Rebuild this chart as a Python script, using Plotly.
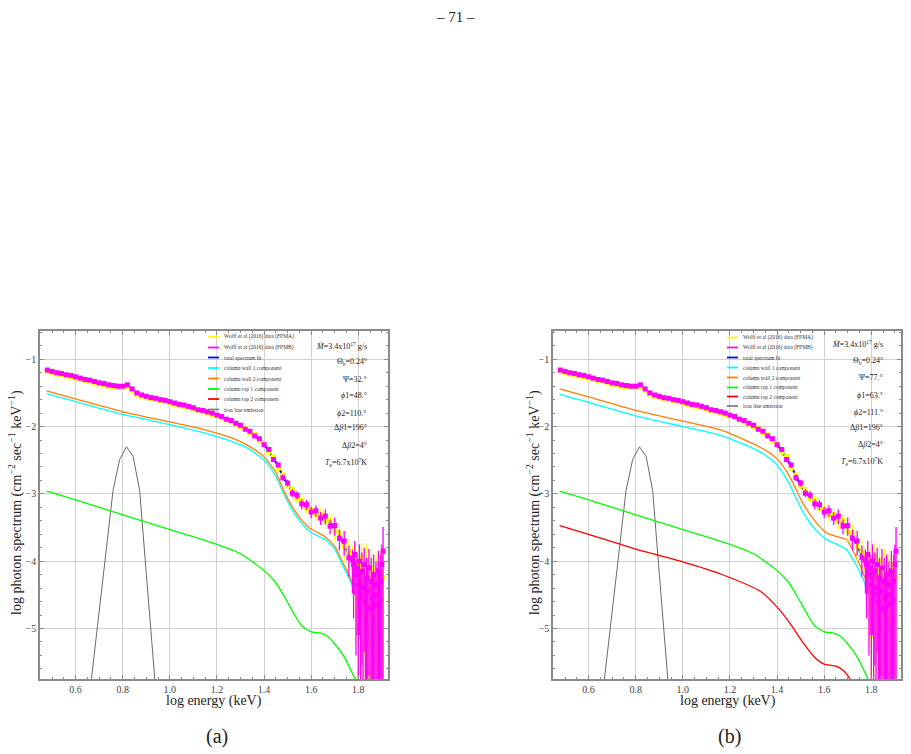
import plotly.graph_objects as go

W, H = 911, 754

# ---------------- data ----------------
# observed spectra (Wolff et al 2016), log energy (keV) vs log photon spectrum
E_DATA = [0.48, 0.50, 0.52, 0.54, 0.56, 0.58, 0.60, 0.62, 0.64, 0.66, 0.68, 0.70, 0.72,
          0.74, 0.76, 0.78, 0.80, 0.82, 0.84, 0.86, 0.88, 0.90, 0.92, 0.94, 0.96, 0.98,
          1.00, 1.02, 1.04, 1.06, 1.08, 1.10, 1.12, 1.14, 1.16, 1.18,
          1.20, 1.22, 1.24, 1.26, 1.28, 1.30, 1.32, 1.34, 1.36, 1.38,
          1.40, 1.42, 1.44, 1.46, 1.48, 1.50,
          1.52, 1.54, 1.56, 1.58, 1.60, 1.62,
          1.64, 1.66, 1.68, 1.70, 1.72, 1.74, 1.76,
          1.775, 1.780, 1.785, 1.790, 1.795, 1.800, 1.805, 1.810, 1.815, 1.820, 1.825, 1.830, 1.835,
          1.840, 1.845, 1.850, 1.855, 1.860, 1.865, 1.870, 1.875, 1.880, 1.885, 1.890, 1.895, 1.900, 1.905]

FPMB = [-1.16, -1.18, -1.20, -1.21, -1.23, -1.24, -1.26, -1.28, -1.30, -1.31, -1.33, -1.35, -1.36,
        -1.38, -1.39, -1.40, -1.40, -1.38, -1.44, -1.50, -1.53, -1.55, -1.57, -1.58, -1.60, -1.61,
        -1.63, -1.65, -1.67, -1.68, -1.70, -1.72, -1.75, -1.76, -1.78, -1.80,
        -1.83, -1.85, -1.89, -1.91, -1.95, -1.98, -2.04, -2.07, -2.14, -2.18,
        -2.27, -2.34, -2.49, -2.57, -2.76, -2.84,
        -2.99, -3.02, -3.15, -3.16, -3.27, -3.25,
        -3.36, -3.33, -3.48, -3.47, -3.66, -3.70, -3.95,
        -3.98, -4.05, -3.90, -4.20, -4.10, -4.35, -4.00, -4.50, -4.15, -4.40, -4.05, -4.60, -4.25,
        -4.45, -4.10, -4.70, -4.30, -4.55, -4.20, -4.65, -4.35, -4.50, -4.15, -4.60, -4.30, -4.05, -3.85]
FPMB_UP = [0.010, 0.010, 0.010, 0.010, 0.010, 0.010, 0.010, 0.010, 0.010, 0.010, 0.010, 0.010, 0.010,
           0.010, 0.010, 0.010, 0.010, 0.010, 0.010, 0.010, 0.010, 0.010, 0.010, 0.010, 0.010, 0.010,
           0.015, 0.015, 0.015, 0.015, 0.015, 0.015, 0.015, 0.015, 0.015, 0.015,
           0.020, 0.020, 0.020, 0.020, 0.020, 0.020, 0.020, 0.020, 0.020, 0.020,
           0.030, 0.030, 0.040, 0.040, 0.050, 0.050,
           0.060, 0.060, 0.070, 0.070, 0.080, 0.080,
           0.090, 0.100, 0.100, 0.120, 0.130, 0.150, 0.180,
           0.15, 0.18, 0.20, 0.22, 0.20, 0.28, 0.25, 0.32, 0.28, 0.30, 0.25, 0.40, 0.30,
           0.35, 0.28, 0.45, 0.35, 0.40, 0.30, 0.45, 0.35, 0.40, 0.30, 0.45, 0.40, 0.30, 0.36]
FPMB_DOWN = [0.010, 0.010, 0.010, 0.010, 0.010, 0.010, 0.010, 0.010, 0.010, 0.010, 0.010, 0.010, 0.010,
             0.010, 0.010, 0.010, 0.010, 0.010, 0.010, 0.010, 0.010, 0.010, 0.010, 0.010, 0.010, 0.010,
             0.015, 0.015, 0.015, 0.015, 0.015, 0.015, 0.015, 0.015, 0.015, 0.015,
             0.020, 0.020, 0.020, 0.020, 0.020, 0.020, 0.020, 0.020, 0.020, 0.020,
             0.030, 0.030, 0.040, 0.040, 0.050, 0.050,
             0.060, 0.060, 0.080, 0.080, 0.090, 0.090,
             0.100, 0.120, 0.120, 0.150, 0.180, 0.220, 0.280,
             0.5, 0.8, 0.6, 1.2, 1.0, 1.6, 1.1, 2.5, 1.4, 2.0, 1.3, 3.0, 2.0,
             2.5, 1.6, 3.0, 2.2, 3.0, 2.0, 3.0, 2.5, 3.0, 2.0, 3.0, 2.6, 2.2, 3.0]

FPMA = [-1.18, -1.20, -1.22, -1.23, -1.25, -1.26, -1.28, -1.30, -1.32, -1.33, -1.35, -1.37, -1.38,
        -1.40, -1.41, -1.42, -1.42, -1.41, -1.46, -1.52, -1.55, -1.57, -1.59, -1.60, -1.62, -1.63,
        -1.65, -1.67, -1.69, -1.70, -1.72, -1.74, -1.76, -1.78, -1.80, -1.82,
        -1.84, -1.87, -1.90, -1.93, -1.96, -2.00, -2.02, -2.09, -2.12, -2.21,
        -2.25, -2.38, -2.45, -2.62, -2.72, -2.88,
        -2.94, -3.07, -3.10, -3.21, -3.23, -3.31,
        -3.30, -3.40, -3.39, -3.55, -3.58, -3.78, -3.85,
        -3.92, -4.10, -3.95, -4.25, -4.05, -4.40, -4.15, -4.30, -3.95, -4.55, -4.20, -4.35, -4.00,
        -4.60, -4.25, -4.45, -4.10, -4.70, -4.30, -4.50, -4.20, -4.65, -4.35, -4.40, -4.15, -4.55, -4.25]
FPMA_UP = [0.010, 0.010, 0.010, 0.010, 0.010, 0.010, 0.010, 0.010, 0.010, 0.010, 0.010, 0.010, 0.010,
           0.010, 0.010, 0.010, 0.010, 0.010, 0.010, 0.010, 0.010, 0.010, 0.010, 0.010, 0.010, 0.010,
           0.015, 0.015, 0.015, 0.015, 0.015, 0.015, 0.015, 0.015, 0.015, 0.015,
           0.020, 0.020, 0.020, 0.020, 0.020, 0.020, 0.020, 0.020, 0.020, 0.020,
           0.030, 0.030, 0.040, 0.040, 0.050, 0.050,
           0.060, 0.060, 0.070, 0.070, 0.080, 0.080,
           0.090, 0.100, 0.100, 0.120, 0.130, 0.150, 0.180,
           0.15, 0.20, 0.18, 0.25, 0.22, 0.30, 0.25, 0.30, 0.22, 0.38, 0.30, 0.35, 0.25,
           0.40, 0.32, 0.38, 0.28, 0.45, 0.35, 0.40, 0.30, 0.45, 0.35, 0.40, 0.30, 0.42, 0.35]
FPMA_DOWN = [0.010, 0.010, 0.010, 0.010, 0.010, 0.010, 0.010, 0.010, 0.010, 0.010, 0.010, 0.010, 0.010,
             0.010, 0.010, 0.010, 0.010, 0.010, 0.010, 0.010, 0.010, 0.010, 0.010, 0.010, 0.010, 0.010,
             0.015, 0.015, 0.015, 0.015, 0.015, 0.015, 0.015, 0.015, 0.015, 0.015,
             0.020, 0.020, 0.020, 0.020, 0.020, 0.020, 0.020, 0.020, 0.020, 0.020,
             0.030, 0.030, 0.040, 0.040, 0.050, 0.050,
             0.060, 0.060, 0.080, 0.080, 0.090, 0.090,
             0.100, 0.120, 0.120, 0.150, 0.180, 0.220, 0.280,
             0.4, 0.7, 0.5, 1.0, 0.8, 1.5, 1.0, 1.4, 0.8, 2.5, 1.2, 1.8, 1.0,
             3.0, 1.5, 2.2, 1.2, 3.0, 1.8, 2.5, 1.4, 3.0, 2.0, 2.4, 1.5, 3.0, 2.0]

# total spectrum fit
E_MODEL = [0.477, 0.50, 0.52, 0.54, 0.56, 0.58, 0.60, 0.62, 0.64, 0.66, 0.68, 0.70, 0.72,
           0.74, 0.76, 0.78, 0.80, 0.82, 0.84, 0.86, 0.88, 0.90, 0.92, 0.94, 0.96, 0.98,
           1.00, 1.02, 1.04, 1.06, 1.08, 1.10, 1.12, 1.14, 1.16, 1.18,
           1.20, 1.22, 1.24, 1.26, 1.28, 1.30, 1.32, 1.34, 1.36, 1.38,
           1.40, 1.42, 1.44, 1.46, 1.48, 1.50, 1.52, 1.54, 1.56, 1.58,
           1.60, 1.62, 1.64, 1.66, 1.68, 1.70, 1.72, 1.74, 1.76, 1.78,
           1.80, 1.82, 1.84, 1.86, 1.88, 1.90]
TOTAL_A = [-1.17, -1.19, -1.21, -1.22, -1.24, -1.25, -1.27, -1.29, -1.31, -1.32, -1.34, -1.36, -1.37,
           -1.39, -1.40, -1.41, -1.41, -1.39, -1.45, -1.51, -1.54, -1.56, -1.58, -1.59, -1.61, -1.62,
           -1.64, -1.66, -1.68, -1.69, -1.71, -1.73, -1.75, -1.77, -1.79, -1.81,
           -1.83, -1.86, -1.89, -1.92, -1.95, -1.99, -2.03, -2.08, -2.13, -2.19,
           -2.26, -2.36, -2.47, -2.59, -2.74, -2.86, -2.96, -3.04, -3.12, -3.19,
           -3.24, -3.28, -3.32, -3.37, -3.43, -3.51, -3.62, -3.75, -3.90, -4.05,
           -4.22, -4.40, -4.60, -4.80, -5.00, -5.20]
TOTAL_B = [-1.165, -1.185, -1.205, -1.22, -1.235, -1.25, -1.265, -1.285, -1.305, -1.32, -1.335, -1.355, -1.37,
           -1.385, -1.40, -1.41, -1.41, -1.39, -1.45, -1.51, -1.54, -1.56, -1.575, -1.59, -1.605, -1.62,
           -1.64, -1.655, -1.675, -1.69, -1.71, -1.73, -1.75, -1.77, -1.79, -1.81,
           -1.83, -1.86, -1.89, -1.92, -1.95, -1.99, -2.03, -2.08, -2.13, -2.19,
           -2.26, -2.36, -2.47, -2.59, -2.74, -2.87, -2.97, -3.05, -3.12, -3.19,
           -3.24, -3.28, -3.33, -3.38, -3.44, -3.52, -3.63, -3.76, -3.92, -4.08,
           -4.25, -4.43, -4.62, -4.82, -5.02, -5.22]

# column wall / top components
WALL_A_E = [0.477, 0.60, 0.80, 1.00, 1.13, 1.27, 1.33, 1.40, 1.45, 1.49, 1.54, 1.59, 1.63,
            1.66, 1.70, 1.73, 1.76, 1.79, 1.82, 1.85, 1.88, 1.90]
WALL2_A = [-1.47, -1.59, -1.78, -1.93, -2.03, -2.18, -2.28, -2.45, -2.68, -3.00, -3.30, -3.50, -3.58,
           -3.64, -3.78, -3.99, -4.20, -4.47, -4.80, -5.20, -5.60, -5.90]
WALL1_A = [-1.51, -1.63, -1.82, -1.97, -2.08, -2.23, -2.32, -2.50, -2.74, -3.05, -3.35, -3.55, -3.63,
           -3.68, -3.82, -4.04, -4.25, -4.52, -4.85, -5.25, -5.65, -5.95]

WALL_B_E = [0.477, 0.60, 0.80, 1.00, 1.16, 1.33, 1.40, 1.45, 1.51, 1.56, 1.61, 1.65, 1.695,
            1.73, 1.766, 1.80, 1.84, 1.87, 1.90]
WALL2_B = [-1.44, -1.56, -1.76, -1.92, -2.05, -2.31, -2.48, -2.72, -3.14, -3.40, -3.58, -3.63, -3.68,
           -3.90, -4.18, -4.50, -4.95, -5.40, -5.80]
WALL1_B = [-1.52, -1.64, -1.84, -2.00, -2.13, -2.38, -2.57, -2.84, -3.27, -3.52, -3.68, -3.74, -3.83,
           -4.02, -4.27, -4.62, -5.10, -5.55, -5.95]

TOP1_E = [0.477, 0.60, 0.80, 1.00, 1.13, 1.20, 1.30, 1.40, 1.45, 1.49, 1.53, 1.56, 1.60,
          1.64, 1.67, 1.70, 1.74, 1.79, 1.82]
TOP1 = [-2.96, -3.09, -3.31, -3.53, -3.67, -3.75, -3.89, -4.14, -4.32, -4.55, -4.80, -4.96, -5.05,
        -5.07, -5.12, -5.23, -5.42, -5.78, -6.00]

TOP2_B_E = [0.477, 0.60, 0.80, 1.00, 1.16, 1.33, 1.41, 1.46, 1.51, 1.56, 1.60, 1.65, 1.68, 1.71, 1.74]
TOP2_B = [-3.47, -3.60, -3.82, -4.01, -4.19, -4.45, -4.72, -4.95, -5.21, -5.43, -5.53, -5.56, -5.62,
          -5.75, -5.95]

IRON_E = [0.646, 0.675, 0.703, 0.731, 0.759, 0.787, 0.816, 0.844, 0.872, 0.900, 0.928, 0.956]
IRON = [-6.4, -5.5, -4.65, -3.8, -2.95, -2.49, -2.30, -2.44, -2.95, -4.18, -5.4, -6.6]

X_TICKS = [0.6, 0.8, 1.0, 1.2, 1.4, 1.6, 1.8]
X_TICK_LABELS = ["0.6", "0.8", "1.0", "1.2", "1.4", "1.6", "1.8"]
Y_TICKS = [-1, -2, -3, -4, -5]
Y_TICK_LABELS = ["\u22121", "\u22122", "\u22123", "\u22124", "\u22125"]

LEGEND_NAMES = ["Wolff et al (2016) data (FPMA)", "Wolff et al (2016) data (FPMB)",
                "total spectrum fit", "column wall 1 component", "column wall 2 component",
                "column top 1 component", "column top 2 component", "iron line emission"]
LEGEND_COLORS = ["#FFFF00", "#FF00FF", "#0000FF", "#00FFFF", "#FF8000", "#00FF00", "#FF0000", "#808080"]

PARAMS_A = ["<i>\u1e40</i>=3.4x10<sup>17</sup> g/s", "\u0398<sub>b</sub>=0.24\u00b0", "\u03a8=32.\u00b0",
            "<i>\u03d5</i>1=48.\u00b0", "<i>\u03d5</i>2=110.\u00b0", "\u0394<i>\u03b2</i>1=196\u00b0",
            "\u0394<i>\u03b2</i>2=4\u00b0", "<i>T</i><sub>e</sub>=6.7x10<sup>7</sup>K"]
PARAMS_B = ["<i>\u1e40</i>=3.4x10<sup>17</sup> g/s", "\u0398<sub>b</sub>=0.24\u00b0", "\u03a8=77.\u00b0",
            "<i>\u03d5</i>1=63.\u00b0", "<i>\u03d5</i>2=111.\u00b0", "\u0394<i>\u03b2</i>1=196\u00b0",
            "\u0394<i>\u03b2</i>2=4\u00b0", "<i>T</i><sub>e</sub>=6.7x10<sup>7</sup>K"]

# ---------------- figure ----------------
SERIF = "Liberation Serif, Times New Roman, DejaVu Serif, serif"
fig = go.Figure()


def px_x(px):
    return px / W


def px_y(py):
    return 1 - py / H


def add_panel(xa, ya, total, wall_e, wall1, wall2, top2_e=None, top2=None):
    common = dict(xaxis=xa, yaxis=ya, showlegend=False, hoverinfo="skip")
    fig.add_trace(go.Scatter(x=IRON_E, y=IRON, mode="lines",
                             line=dict(color="#6a6a6a", width=1), **common))
    fig.add_trace(go.Scatter(x=TOP1_E, y=TOP1, mode="lines", line_shape="spline",
                             line=dict(color="#00FF00", width=1.3, smoothing=0.6), **common))
    if top2 is not None:
        fig.add_trace(go.Scatter(x=top2_e, y=top2, mode="lines", line_shape="spline",
                                 line=dict(color="#FF0000", width=1.3, smoothing=0.6), **common))
    fig.add_trace(go.Scatter(x=wall_e, y=wall1, mode="lines", line_shape="spline",
                             line=dict(color="#00FFFF", width=1.3, smoothing=0.6), **common))
    fig.add_trace(go.Scatter(x=wall_e, y=wall2, mode="lines", line_shape="spline",
                             line=dict(color="#FF8000", width=1.3, smoothing=0.6), **common))
    fig.add_trace(go.Scatter(x=E_MODEL, y=total, mode="lines",
                             line=dict(color="#0000FF", width=2.2), **common))
    fig.add_trace(go.Scatter(x=E_DATA, y=FPMA, mode="markers",
                             marker=dict(symbol="square", size=5, color="#FFFF00", line=dict(width=0)),
                             error_y=dict(type="data", symmetric=False, array=FPMA_UP,
                                          arrayminus=FPMA_DOWN, color="#FFFF00", thickness=1.2, width=0),
                             **common))
    fig.add_trace(go.Scatter(x=E_DATA, y=FPMB, mode="markers",
                             marker=dict(symbol="square", size=5, color="#FF00FF", line=dict(width=0)),
                             error_y=dict(type="data", symmetric=False, array=FPMB_UP,
                                          arrayminus=FPMB_DOWN, color="#FF00FF", thickness=1.3, width=0),
                             **common))


add_panel("x", "y", TOTAL_A, WALL_A_E, WALL1_A, WALL2_A)
add_panel("x2", "y2", TOTAL_B, WALL_B_E, WALL1_B, WALL2_B, TOP2_B_E, TOP2_B)

FRAME = "#8a8a8a"
tickfont = dict(family=SERIF, size=10, color="#444444")
xcommon = dict(range=[0.449, 1.926], tickvals=X_TICKS, ticktext=X_TICK_LABELS,
               showgrid=True, gridcolor="#d2d2d2", gridwidth=1, zeroline=False,
               showline=True, linecolor=FRAME, linewidth=1.6, mirror="allticks",
               ticks="inside", ticklen=4, tickcolor=FRAME, tickwidth=1, tickfont=tickfont,
               minor=dict(tick0=0, dtick=0.05, ticks="inside", ticklen=2, tickcolor=FRAME, showgrid=False))
ycommon = dict(range=[-5.75, -0.58], tickvals=Y_TICKS, ticktext=Y_TICK_LABELS,
               showgrid=True, gridcolor="#d2d2d2", gridwidth=1, zeroline=False,
               showline=True, linecolor=FRAME, linewidth=1.6, mirror="allticks",
               ticks="inside", ticklen=4, tickcolor=FRAME, tickwidth=1, tickfont=tickfont,
               minor=dict(tick0=0, dtick=0.2, ticks="inside", ticklen=2, tickcolor=FRAME, showgrid=False))

YDOM = [px_y(679), px_y(331)]
fig.update_layout(
    width=W, height=H, margin=dict(l=0, r=0, t=0, b=0),
    paper_bgcolor="white", plot_bgcolor="white",
    font=dict(family=SERIF),
    xaxis=dict(domain=[px_x(40), px_x(388)], anchor="y", **xcommon),
    yaxis=dict(domain=YDOM, anchor="x", **ycommon),
    xaxis2=dict(domain=[px_x(553), px_x(901)], anchor="y2", **xcommon),
    yaxis2=dict(domain=YDOM, anchor="x2", **ycommon),
)

annotations = []
shapes = []


def ann(text, px, py, size, xanchor="center", angle=0, color="#222222"):
    annotations.append(dict(text=text, x=px_x(px), y=px_y(py), xref="paper", yref="paper",
                            xanchor=xanchor, yanchor="middle", showarrow=False, textangle=angle,
                            font=dict(family=SERIF, size=size, color=color)))


# page header
ann("\u2013 71 \u2013", 455, 17, 15)

for (ytitle_x, xtitle_x, lab_x, lab, leg_x0, leg_ys, params, par_x, par_ys) in [
    (15, 214, 217, "(a)", 208, [337, 347.5, 357.5, 368, 378.5, 389, 399, 409.5], PARAMS_A, 369,
     [345.5, 362, 379, 396, 413, 428, 445, 462]),
    (533, 728, 729, "(b)", 727, [337.5, 347.5, 357.5, 367.5, 377.5, 387.5, 396.5, 406], PARAMS_B, 885,
     [343.5, 360.5, 377.5, 395, 412, 427, 444.5, 461.5]),
]:
    ann("log photon spectrum (cm<sup>\u22122</sup> sec<sup>\u22121</sup> keV<sup>\u22121</sup>)",
        ytitle_x, 503, 14, angle=-90)
    ann("log energy (keV)", xtitle_x, 701, 14)
    ann(lab, lab_x, 736, 20)
    for name, col, ly in zip(LEGEND_NAMES, LEGEND_COLORS, leg_ys):
        shapes.append(dict(type="line", xref="paper", yref="paper",
                           x0=px_x(leg_x0), x1=px_x(leg_x0 + 11), y0=px_y(ly), y1=px_y(ly),
                           line=dict(color=col, width=1.8)))
        ann(name, leg_x0 + 14, ly, 5.5, xanchor="left", color="#333333")
    for txt, py in zip(params, par_ys):
        ann(txt, par_x, py, 8, xanchor="right")

fig.update_layout(annotations=annotations, shapes=shapes)
fig.write_html("out.html")
